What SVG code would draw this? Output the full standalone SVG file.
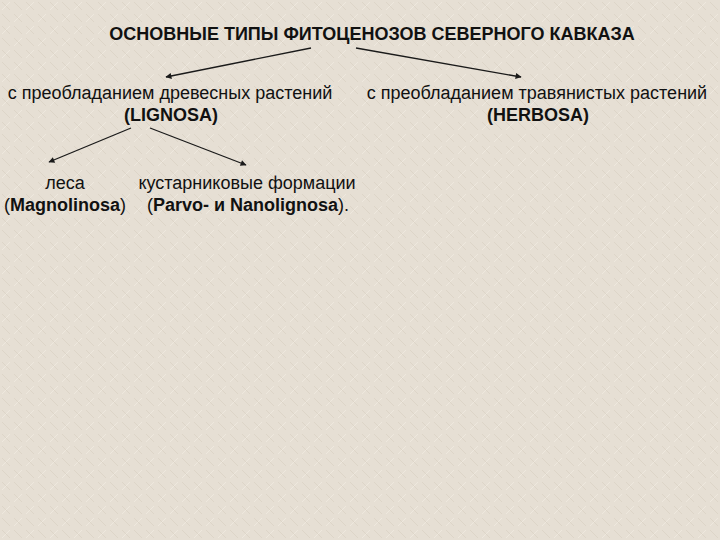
<svg xmlns="http://www.w3.org/2000/svg" width="720" height="540" viewBox="0 0 720 540">
<defs>
<marker id="ah" viewBox="0 0 10 10" refX="9" refY="5" markerWidth="8" markerHeight="6" orient="auto" markerUnits="userSpaceOnUse">
<path d="M0,0 L10,5 L0,10 z" fill="#1a1a1a"/>
</marker>
<pattern id="bg" width="24" height="24" patternUnits="userSpaceOnUse">
<rect width="24" height="24" fill="#e6dfd4"/>
<path d="M2,2 L10,10 M14,2 L22,10 M2,14 L10,22 M14,14 L22,22" stroke="#ddd5c8" stroke-width="1"/>
<path d="M10,2 L2,10 M22,14 L14,22" stroke="#eee8de" stroke-width="1"/>
</pattern>
</defs>
<style>
text{font-family:"Liberation Sans",Arial,sans-serif;fill:#111;font-size:18px;text-anchor:middle}
.t{font-weight:bold;font-size:18px}
.b{font-weight:bold}
.c line{stroke:#1a1a1a;stroke-width:1.3;marker-end:url(#ah)}
</style>
<rect width="720" height="540" fill="url(#bg)"/>
<g class="c" id="connectors">
<line x1="311" y1="48" x2="166" y2="77"/>
<line x1="356" y1="48" x2="521" y2="77"/>
<line x1="131" y1="128" x2="49" y2="162"/>
<line x1="150" y1="128" x2="246" y2="165"/>
</g>
<g id="title"><text class="t" x="372" y="40">ОСНОВНЫЕ ТИПЫ ФИТОЦЕНОЗОВ СЕВЕРНОГО КАВКАЗА</text></g>
<g id="lignosa"><text x="170" y="99">с преобладанием древесных растений</text><text x="171" y="121" class="b">(LIGNOSA)</text></g>
<g id="herbosa"><text x="537" y="99">с преобладанием травянистых растений</text><text x="538" y="121" class="b">(HERBOSA)</text></g>
<g id="forest"><text x="65" y="189">леса</text><text x="65" y="211">(<tspan class="b">Magnolinosa</tspan>)</text></g>
<g id="shrub"><text x="247" y="189">кустарниковые формации</text><text x="248" y="211">(<tspan class="b">Parvo- и Nanolignosa</tspan>).</text></g>
</svg>
